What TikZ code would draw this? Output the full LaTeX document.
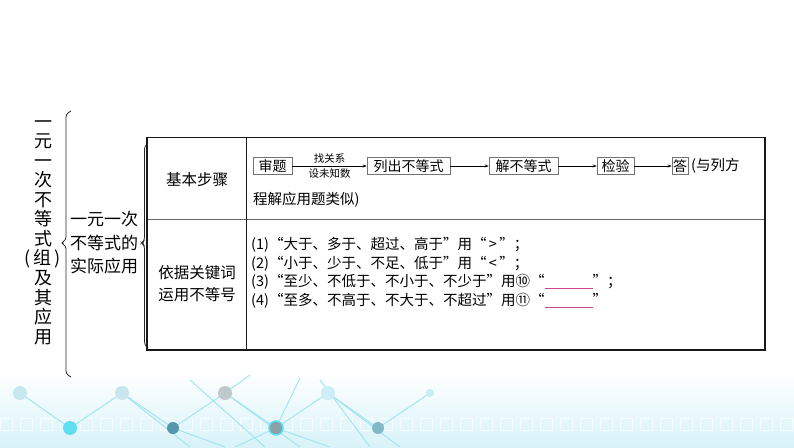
\documentclass[tikz,border=0pt]{standalone}
\usepackage{fontspec}
\usetikzlibrary{arrows.meta}
\newfontfamily\cjk{Noto Sans CJK SC}
\definecolor{blankc}{RGB}{205,70,150}
\definecolor{decoline}{RGB}{165,228,240}
\definecolor{decobg}{RGB}{215,243,249}
\definecolor{ca}{RGB}{200,232,240}
\definecolor{cb}{RGB}{200,230,238}
\definecolor{cc}{RGB}{190,200,205}
\definecolor{cd}{RGB}{205,238,246}
\definecolor{ce}{RGB}{200,235,242}
\definecolor{cf}{RGB}{95,222,240}
\definecolor{cg}{RGB}{85,150,170}
\definecolor{ch}{RGB}{140,160,170}
\definecolor{ci}{RGB}{130,185,200}
\definecolor{cring}{RGB}{90,225,245}
\begin{document}
\begin{tikzpicture}[x=1pt,y=-1pt,
  title/.style={font=\cjk\fontsize{18}{19.55}\selectfont, align=center, inner sep=0pt},
  mid/.style={font=\cjk\fontsize{17}{23.5}\selectfont, align=center, inner sep=0pt},
  head/.style={font=\cjk\fontsize{15.5}{22}\selectfont, align=center, inner sep=0pt},
  body/.style={font=\cjk\fontsize{14.5}{14.5}\selectfont, anchor=west, inner sep=0pt},
  stepbox/.style={draw=black!55, line width=0.6pt, font=\cjk\fontsize{14}{14}\selectfont, inner sep=0pt, minimum height=17pt},
  flow/.style={-{Stealth[length=4pt,width=3pt]}, line width=0.6pt},
  lab/.style={font=\cjk\fontsize{10.5}{10.5}\selectfont, inner sep=2.5pt},
  brace/.style={line width=0.8pt, black!85, rounded corners=3pt},
  deco/.style={decoline, line width=1pt}]
\useasboundingbox (0,0) rectangle (794,447);
% background decoration
\shade[top color=white, bottom color=decobg] (0,372) rectangle (794,447);
\foreach \x in {0,20,...,780}{\draw[white, line width=0.8pt, opacity=0.7] (\x,418) rectangle ++(12,12);}
\draw[deco] (20,393) -- (70,428) -- (122,393) -- (173,428) -- (225,393) -- (276,428) -- (328,393) -- (378,428) -- (430,393);
\draw[deco] (122,393) -- (190,447) (173,428) -- (225,447) (225,393) -- (300,447) (276,428) -- (330,447) (328,393) -- (400,447);
\draw[deco] (190,380) -- (265,447) (250,375) -- (225,393) (300,378) -- (276,428) (320,380) -- (370,447) (276,428) -- (235,447);
\foreach \x/\y/\r/\c in {20/393/7/ca,122/393/7/cb,225/393/7/cc,328/393/7/cd,430/393/4/ce,70/428/7/cf,173/428/6/cg,276/428/7/ch,378/428/6/ci}
  {\fill[\c] (\x,\y) circle (\r);}
\draw[cring, line width=1.5pt] (276,428) circle (7);
% left title
\node[title] (t) at (43,232.5) {一\\元\\一\\次\\不\\等\\式\\(\,组\,)\\及\\其\\应\\用};
\draw[brace] (71,111) -- (66,114) -- (66,240) -- (61,243) -- (66,246) -- (66,374) -- (71,377);
\node[mid] (m) at (104,243) {一元一次\\不等式的\\实际应用};
\draw[brace] (148,143) -- (144.5,146) -- (144.5,240.5) -- (141.5,243) -- (144.5,245.5) -- (144.5,345) -- (148,348);
% table
\draw[black!60, line width=0.8pt] (147,219) -- (765,219);
\draw[black!90, line width=0.9pt] (246,137.5) -- (246,350);
\draw[black!90, line width=1.3pt] (147,137.5) rectangle (765,350);
\node[head] (h1) at (197,180) {基本步骤};
\node[head] (h2) at (197,284) {依据关键词\\运用不等号};
% row 1
\node[stepbox, minimum width=39pt] (s1) at (272.5,166) {审题};
\node[stepbox, minimum width=83pt] (s2) at (408.5,166) {列出不等式};
\node[stepbox, minimum width=69pt] (s3) at (523.5,166) {解不等式};
\node[stepbox, minimum width=37pt] (s4) at (615.5,166) {检验};
\node[stepbox, minimum width=16pt] (s5) at (680,166) {答};
\draw[flow] (s1) -- node[lab,above]{找关系} node[lab,below]{设未知数} (s2);
\draw[flow] (s2) -- (s3);
\draw[flow] (s3) -- (s4);
\draw[flow] (s4) -- (s5);
\node[body] (r1a) at (691,166) {(与列方};
\node[body] (r1b) at (253,200) {程解应用题类似)};
% row 2
\node[body] (l1) at (251,245) {(1)“大于、多于、超过、高于”用“\,>\,”；};
\node[body] (l2) at (251,263.5) {(2)“小于、少于、不足、低于”用“\,<\,”；};
\node[body] (l3) at (251,282) {(3)“至少、不低于、不小于、不少于”用⑩“\textcolor{blankc}{\rule[-2pt]{48pt}{0.7pt}}”；};
\node[body] (l4) at (251,300.5) {(4)“至多、不高于、不大于、不超过”用⑪“\textcolor{blankc}{\rule[-2pt]{48pt}{0.7pt}}”};
\end{tikzpicture}
\end{document}
